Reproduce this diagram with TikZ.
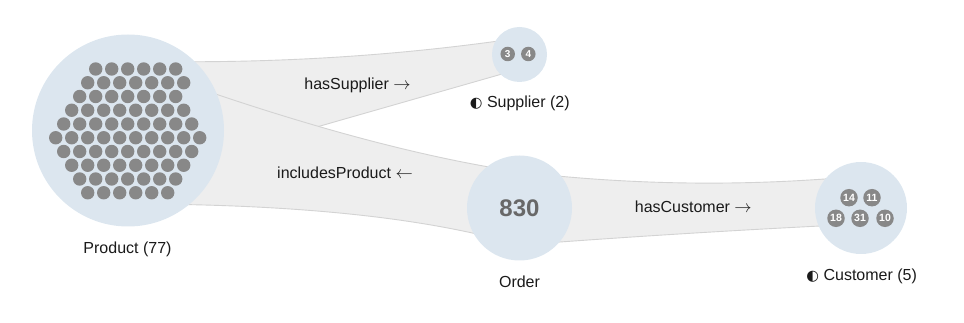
\documentclass[tikz,border=0pt]{standalone}
\usepackage{fontspec}
\setmainfont{Liberation Sans}
\newfontfamily\symfont{DejaVu Sans}
\usetikzlibrary{calc,backgrounds}
\definecolor{band}{HTML}{EEEEEE}
\definecolor{bandedge}{HTML}{D3D3D3}
\definecolor{nodefill}{HTML}{DCE6EF}
\definecolor{dotgray}{HTML}{888888}
\definecolor{bignum}{HTML}{686868}
\definecolor{labeltext}{HTML}{1A1A1A}
\newcommand{\halfc}{{\symfont\fontsize{14.5}{14}\selectfont ◐}}
\begin{document}
\begin{tikzpicture}[x=1pt,y=-1pt,
  bandstyle/.style={fill=band,draw=bandedge,line width=0.9pt},
  classnode/.style={circle,fill=nodefill,inner sep=0pt,minimum size=#1},
  numdot/.style={circle,fill=dotgray,inner sep=0pt,minimum size=#1,text=white,font=\fontsize{10.5}{11}\selectfont\bfseries},
  lbl/.style={text=labeltext,font=\fontsize{16}{19}\selectfont,inner sep=1pt}
]
\useasboundingbox (0,0) rectangle (964,323);

% class nodes
\node[classnode=192pt] (product) at (128,130.5) {};
\node[classnode=55pt] (supplier) at (519.5,54.5) {};
\node[classnode=105pt,text=bignum,font=\fontsize{24}{24}\selectfont\bfseries] (order) at (519.5,208) {830};
\node[classnode=92pt] (customer) at (861,208) {};

% bands (links)
\begin{scope}[on background layer]
  % hasSupplier
  \coordinate (a1) at ($(product.center)+(0,-69.5)$);
  \coordinate (c1) at (330,66);
  \coordinate (b1) at ($(supplier.center)+(0,-16.5)$);
  \coordinate (b2) at ($(supplier.center)+(0,14.5)$);
  \coordinate (a2) at ($(product.center)+(0,50.5)$);
  \draw[bandstyle] (a1) .. controls ($(a1)!2/3!(c1)$) and ($(b1)!2/3!(c1)$) .. (b1) -- (b2) -- (a2) -- cycle;
  % includesProduct
  \coordinate (p1) at ($(product.center)+(0,-67.5)$);
  \coordinate (q1) at (356.6,147.6);
  \coordinate (o1) at ($(order.center)+(0,-36)$);
  \coordinate (o2) at ($(order.center)+(0,37)$);
  \coordinate (q2) at (380,204);
  \coordinate (p2) at ($(product.center)+(0,73.5)$);
  \draw[bandstyle] (p1) .. controls ($(p1)!2/3!(q1)$) and ($(o1)!2/3!(q1)$) .. (o1) -- (o2)
     .. controls ($(o2)!2/3!(q2)$) and ($(p2)!2/3!(q2)$) .. (p2) -- cycle;
  % hasCustomer
  \coordinate (r1) at (690,192);
  \coordinate (k1) at ($(customer.center)+(0,-32)$);
  \coordinate (k2) at ($(customer.center)+(0,16)$);
  \coordinate (r2) at (690,232.1);
  \draw[bandstyle] (o1) .. controls ($(o1)!2/3!(r1)$) and ($(k1)!2/3!(r1)$) .. (k1) -- (k2)
     .. controls ($(k2)!2/3!(r2)$) and ($(o2)!2/3!(r2)$) .. (o2) -- cycle;
\end{scope}

% product instance dots (77)
\foreach \s/\n [count=\i from 0] in {5/6,4/7,3/7,2/8,1/9,0/10,1/9,2/8,3/7,4/6}{
  \foreach \j in {1,...,\n}{
    \fill[dotgray] ({55.7+8*\s+16*(\j-1)},{69+13.75*\i}) circle (6.7);
  }
}

% supplier instances
\node[numdot=14.5pt,font=\fontsize{10}{10}\selectfont\bfseries] (s3) at (507.7,54) {3};
\node[numdot=14.5pt,font=\fontsize{10}{10}\selectfont\bfseries] (s4) at (528.3,54) {4};

% customer instances
\node[numdot=17.5pt] (c14) at (849,197.7) {14};
\node[numdot=17.5pt] (c11) at (872,197.7) {11};
\node[numdot=17.5pt] (c18) at (836,218.3) {18};
\node[numdot=17.5pt] (c31) at (860,218.3) {31};
\node[numdot=17.5pt] (c10) at (885,218.3) {10};

% labels
\node[lbl] (productlabel) at (127.5,249) {Product (77)};
\node[lbl] (supplierlabel) at (519.8,103) {\halfc{} Supplier (2)};
\node[lbl] (orderlabel) at (519.5,282) {Order};
\node[lbl] (customerlabel) at (861.7,276.7) {\halfc{} Customer (5)};
\node[lbl] (hassupplier) at (357.5,85) {hasSupplier $\rightarrow$};
\node[lbl] (includesproduct) at (345,172.7) {includesProduct $\leftarrow$};
\node[lbl] (hascustomer) at (693.3,206.7) {hasCustomer $\rightarrow$};
\end{tikzpicture}
\end{document}
